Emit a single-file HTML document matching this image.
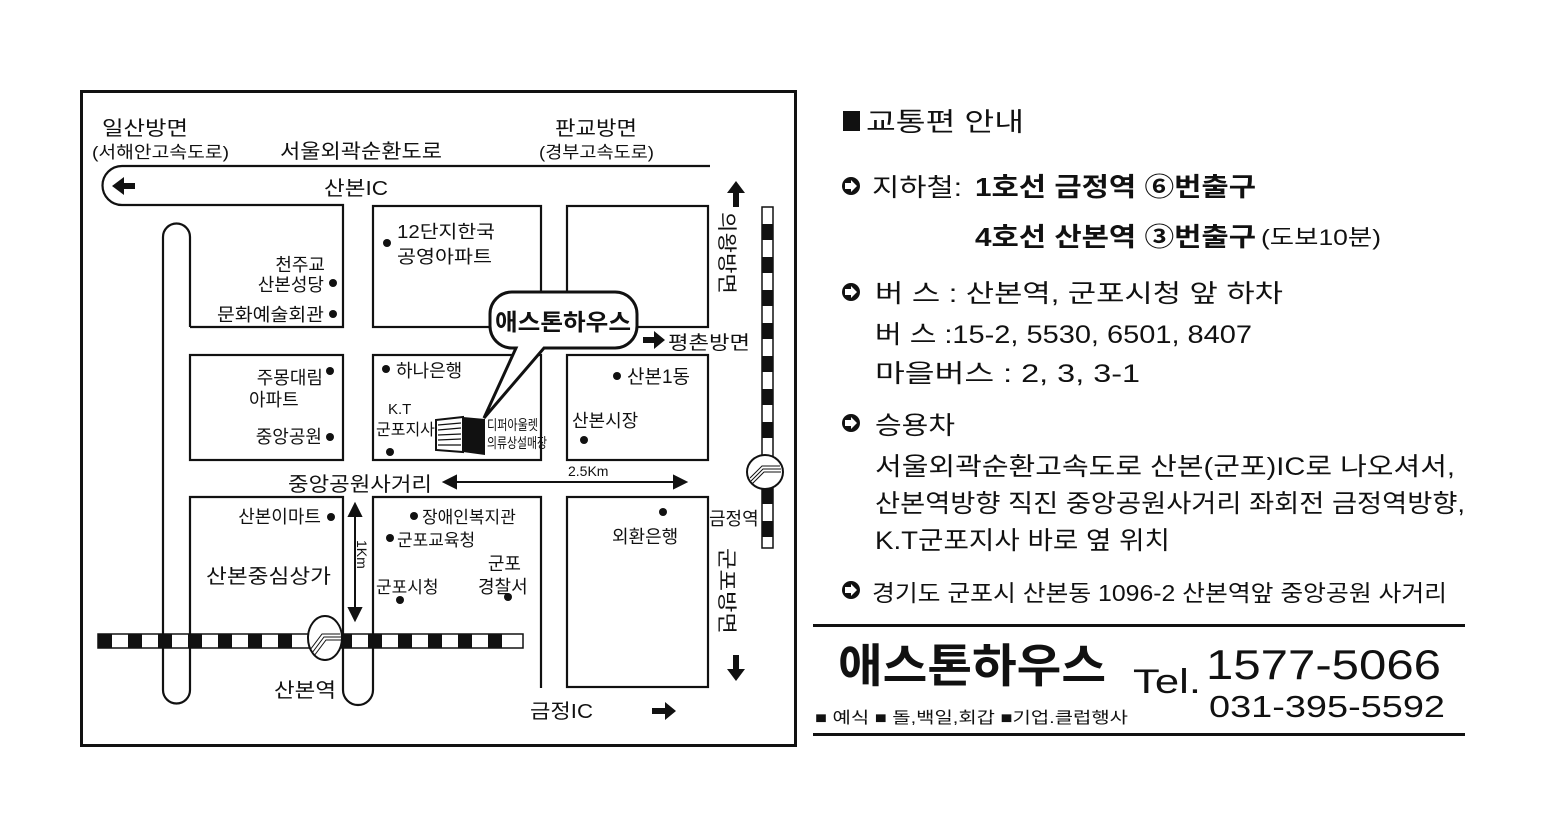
<!DOCTYPE html>
<html><head><meta charset="utf-8"><style>
html,body{margin:0;padding:0;background:#fff;}
svg{display:block;}
text{font-family:"Liberation Sans","Noto Sans CJK KR","NanumGothic",sans-serif;fill:#111;}
.b{font-weight:bold;}
</style></head><body>
<svg width="1546" height="838" viewBox="0 0 1546 838" xmlns="http://www.w3.org/2000/svg">
<rect width="1546" height="838" fill="#fff"/>
<!-- frame -->
<rect x="81.5" y="91.5" width="714" height="654" fill="none" stroke="#111" stroke-width="3"/>
<g fill="none" stroke="#111" stroke-width="2.2">
<!-- top road -->
<path d="M710 166 H122 A19.5 19.5 0 0 0 122 205 H343 V327 H190"/>
<!-- left pill -->
<path d="M190 327 V237 A13.5 13.5 0 0 0 163 237 V690 A13.5 13.5 0 0 0 190 690 V497 H343 V690 A15 15 0 0 0 373 690 V497 H541 V688"/>
<rect x="190" y="355" width="153" height="105"/>
<rect x="373" y="206" width="168" height="121"/>
<rect x="567" y="206" width="141" height="121"/>
<rect x="373" y="355" width="168" height="105"/>
<rect x="567" y="355" width="141" height="105"/>
<rect x="567" y="497" width="141" height="190"/>
</g>
<!-- horizontal rail -->
<rect x="98" y="634" width="425" height="14" fill="#fff" stroke="#111" stroke-width="1.5"/>
<g fill="#111">
<rect x="98" y="634" width="14" height="14"/><rect x="128" y="634" width="14" height="14"/><rect x="158" y="634" width="14" height="14"/><rect x="188" y="634" width="14" height="14"/><rect x="218" y="634" width="14" height="14"/><rect x="248" y="634" width="14" height="14"/><rect x="278" y="634" width="14" height="14"/><rect x="338" y="634" width="14" height="14"/><rect x="368" y="634" width="14" height="14"/><rect x="398" y="634" width="14" height="14"/><rect x="428" y="634" width="14" height="14"/><rect x="458" y="634" width="14" height="14"/><rect x="488" y="634" width="14" height="14"/>
</g>
<!-- vertical rail -->
<rect x="762" y="207" width="11" height="341" fill="#fff" stroke="#111" stroke-width="1.5"/>
<g fill="#111">
<rect x="762" y="224" width="11" height="16"/><rect x="762" y="257" width="11" height="16"/><rect x="762" y="290" width="11" height="16"/><rect x="762" y="323" width="11" height="16"/><rect x="762" y="356" width="11" height="16"/><rect x="762" y="389" width="11" height="16"/><rect x="762" y="422" width="11" height="16"/><rect x="762" y="488" width="11" height="16"/><rect x="762" y="521" width="11" height="16"/>
</g>
<!-- stations -->
<g stroke="#111" fill="#fff" stroke-width="2">
<ellipse cx="325" cy="638" rx="17" ry="22"/>
<ellipse cx="765" cy="472" rx="18" ry="17"/>
</g>
<g stroke="#111" fill="none" stroke-width="1">
<path d="M310 650 L322 634 H340 M312 653 L324 637 H341 M314 656 L326 640 H341"/>
<path d="M750 478 L762 466 H780 M751 481 L763 469 H781 M752 484 L764 472 H781"/>
</g>
<!-- arrows -->
<g fill="#111">
<polygon points="112,186 124,177 124,183 135,183 135,189 124,189 124,195"/>
<polygon points="665,340 654,331 654,337 643,337 643,343 654,343 654,349"/>
<polygon points="676,711 665,702 665,708 652,708 652,714 665,714 665,720"/>
<polygon points="736,181 727,193 733,193 733,207 739,207 739,193 745,193"/>
<polygon points="736,681 727,669 733,669 733,655 739,655 739,669 745,669"/>
</g>
<g stroke="#111" stroke-width="2" fill="#111">
<line x1="452" y1="482" x2="678" y2="482"/>
<polygon points="444,482 456,476 456,488"/><polygon points="686,482 674,476 674,488"/>
<line x1="355" y1="512" x2="355" y2="612"/>
<polygon points="355,504 349,516 361,516"/><polygon points="355,620 349,608 361,608"/>
</g>
<!-- bubble -->
<path d="M512 292 H615 A22 22 0 0 1 637 314 V326 A22 22 0 0 1 615 348 H544 L484 418 L516 348 H512 A22 22 0 0 1 490 326 V314 A22 22 0 0 1 512 292 Z" fill="#fff" stroke="#111" stroke-width="3"/>
<text x="563" y="330" class="b" font-size="23" text-anchor="middle" textLength="136" lengthAdjust="spacingAndGlyphs">애스톤하우스</text>
<!-- building -->
<polygon points="436,420 463,417 463,452 436,450" fill="#fff" stroke="#111" stroke-width="2"/>
<g stroke="#111" stroke-width="1.2"><line x1="438" y1="425" x2="461" y2="423"/><line x1="438" y1="430" x2="461" y2="428"/><line x1="438" y1="435" x2="461" y2="434"/><line x1="438" y1="440" x2="461" y2="439"/><line x1="438" y1="445" x2="461" y2="445"/></g>
<polygon points="463,417 485,419 485,455 463,452" fill="#111"/>
<!-- dots -->
<g fill="#111">
<circle cx="387" cy="243" r="4"/><circle cx="333" cy="283" r="4"/><circle cx="333" cy="314" r="4"/><circle cx="330" cy="371" r="4"/><circle cx="330" cy="437" r="4"/><circle cx="386" cy="369" r="4"/><circle cx="390" cy="452" r="4"/><circle cx="584" cy="440" r="4"/><circle cx="617" cy="376" r="4"/><circle cx="331" cy="517" r="4"/><circle cx="414" cy="516" r="4"/><circle cx="390" cy="538" r="4"/><circle cx="400" cy="600" r="4"/><circle cx="508" cy="597" r="4"/><circle cx="663" cy="512" r="4"/>
</g>
<!-- map labels -->
<g font-size="20">
<text x="145" y="135" text-anchor="middle" textLength="86" lengthAdjust="spacingAndGlyphs">일산방면</text>
<text x="92" y="158" font-size="17" textLength="137" lengthAdjust="spacingAndGlyphs">(서해안고속도로)</text>
<text x="280" y="158" textLength="162" lengthAdjust="spacingAndGlyphs">서울외곽순환도로</text>
<text x="596" y="135" text-anchor="middle" textLength="82" lengthAdjust="spacingAndGlyphs">판교방면</text>
<text x="539" y="158" font-size="17" textLength="115" lengthAdjust="spacingAndGlyphs">(경부고속도로)</text>
<text x="324" y="195" textLength="64" lengthAdjust="spacingAndGlyphs">산본IC</text>
<text x="397" y="238" font-size="18" textLength="98" lengthAdjust="spacingAndGlyphs">12단지한국</text>
<text x="397" y="263" font-size="18" textLength="95" lengthAdjust="spacingAndGlyphs">공영아파트</text>
<text x="325" y="271" font-size="18" text-anchor="end">천주교</text>
<text x="324" y="291" font-size="18" text-anchor="end">산본성당</text>
<text x="324" y="321" font-size="18" text-anchor="end" textLength="107" lengthAdjust="spacingAndGlyphs">문화예술회관</text>
<text x="668" y="349" font-size="19" textLength="82" lengthAdjust="spacingAndGlyphs">평촌방면</text>
<text x="323" y="384" font-size="18" text-anchor="end">주몽대림</text>
<text x="249" y="406" font-size="18">아파트</text>
<text x="322" y="443" font-size="18" text-anchor="end">중앙공원</text>
<text x="396" y="377" font-size="18">하나은행</text>
<text x="388" y="414" font-size="15">K.T</text>
<text x="376" y="435" font-size="16">군포지사</text>
<text x="487" y="430" font-size="14" textLength="51" lengthAdjust="spacingAndGlyphs">디퍼아울렛</text>
<text x="487" y="448" font-size="14" textLength="60" lengthAdjust="spacingAndGlyphs">의류상설매장</text>
<text x="627" y="383" font-size="19">산본1동</text>
<text x="572" y="427" font-size="18">산본시장</text>
<text x="288" y="491" textLength="144" lengthAdjust="spacingAndGlyphs">중앙공원사거리</text>
<text x="568" y="476" font-size="14">2.5Km</text>
<text x="321" y="523" font-size="18" text-anchor="end">산본이마트</text>
<text x="422" y="523" font-size="17">장애인복지관</text>
<text x="397" y="546" font-size="17">군포교육청</text>
<text x="206" y="583" textLength="125" lengthAdjust="spacingAndGlyphs">산본중심상가</text>
<text x="503" y="570" font-size="18" text-anchor="end" dx="18">군포</text>
<text x="478" y="593" font-size="18">경찰서</text>
<text x="376" y="593" font-size="17">군포시청</text>
<text x="612" y="543" font-size="18">외환은행</text>
<text x="709" y="525" font-size="18">금정역</text>
<text x="274" y="697" textLength="62" lengthAdjust="spacingAndGlyphs">산본역</text>
<text x="530" y="718" textLength="63" lengthAdjust="spacingAndGlyphs">금정IC</text>
<text transform="translate(720,212) rotate(90)" font-size="20" textLength="82" lengthAdjust="spacingAndGlyphs">의왕방면</text>
<text transform="translate(720,548) rotate(90)" font-size="20" textLength="86" lengthAdjust="spacingAndGlyphs">군포방면</text>
<text transform="translate(357,540) rotate(90)" font-size="14">1Km</text>
</g>
<!-- right panel -->
<g>
<rect x="843" y="111" width="17" height="20" fill="#111"/>
<text x="866" y="131" font-size="26" textLength="158" lengthAdjust="spacingAndGlyphs">교통편 안내</text>
<g fill="#111"><circle cx="851" cy="186" r="9"/><circle cx="851" cy="292" r="9"/><circle cx="851" cy="423" r="9"/><circle cx="851" cy="590" r="9"/></g>
<g fill="#fff"><polygon points="857,186 851,180 851,183 845,183 845,189 851,189 851,192"/><polygon points="857,292 851,286 851,289 845,289 845,295 851,295 851,298"/><polygon points="857,423 851,417 851,420 845,420 845,426 851,426 851,429"/><polygon points="857,590 851,584 851,587 845,587 845,593 851,593 851,596"/></g>
<text x="872" y="196" font-size="25" textLength="90" lengthAdjust="spacingAndGlyphs">지하철:</text>
<text x="975" y="196" font-size="26" class="b" textLength="281" lengthAdjust="spacingAndGlyphs">1호선 금정역 ⑥번출구</text>
<text x="975" y="246" font-size="26" class="b" textLength="281" lengthAdjust="spacingAndGlyphs">4호선 산본역 ③번출구</text>
<text x="1261" y="245" font-size="22" textLength="120" lengthAdjust="spacingAndGlyphs">(도보10분)</text>
<text x="875" y="302" font-size="25" textLength="408" lengthAdjust="spacingAndGlyphs">버 스 : 산본역, 군포시청 앞 하차</text>
<text x="875" y="343" font-size="25" textLength="377" lengthAdjust="spacingAndGlyphs">버 스 :15-2, 5530, 6501, 8407</text>
<text x="875" y="382" font-size="25" textLength="265" lengthAdjust="spacingAndGlyphs">마을버스 : 2, 3, 3-1</text>
<text x="875" y="434" font-size="25" textLength="80" lengthAdjust="spacingAndGlyphs">승용차</text>
<text x="875" y="475" font-size="25" textLength="580" lengthAdjust="spacingAndGlyphs">서울외곽순환고속도로 산본(군포)IC로 나오셔서,</text>
<text x="875" y="512" font-size="25" textLength="590" lengthAdjust="spacingAndGlyphs">산본역방향 직진 중앙공원사거리 좌회전 금정역방향,</text>
<text x="875" y="549" font-size="25" textLength="295" lengthAdjust="spacingAndGlyphs">K.T군포지사 바로 옆 위치</text>
<text x="872" y="601" font-size="23" textLength="575" lengthAdjust="spacingAndGlyphs">경기도 군포시 산본동 1096-2 산본역앞 중앙공원 사거리</text>
<rect x="813" y="624" width="652" height="3" fill="#111"/>
<text x="838" y="682" font-size="46" class="b" textLength="268" lengthAdjust="spacingAndGlyphs">애스톤하우스</text>
<text x="1133" y="693" font-size="34" textLength="68" lengthAdjust="spacingAndGlyphs">Tel.</text>
<text x="1206" y="679" font-size="42" textLength="235" lengthAdjust="spacingAndGlyphs">1577-5066</text>
<text x="1209" y="717" font-size="31" textLength="236" lengthAdjust="spacingAndGlyphs">031-395-5592</text>
<text x="815" y="723" font-size="16" textLength="313" lengthAdjust="spacingAndGlyphs">■ 예식 ■ 돌,백일,회갑 ■기업.클럽행사</text>
<rect x="813" y="733" width="652" height="3" fill="#111"/>
</g>
</svg>
</body></html>
